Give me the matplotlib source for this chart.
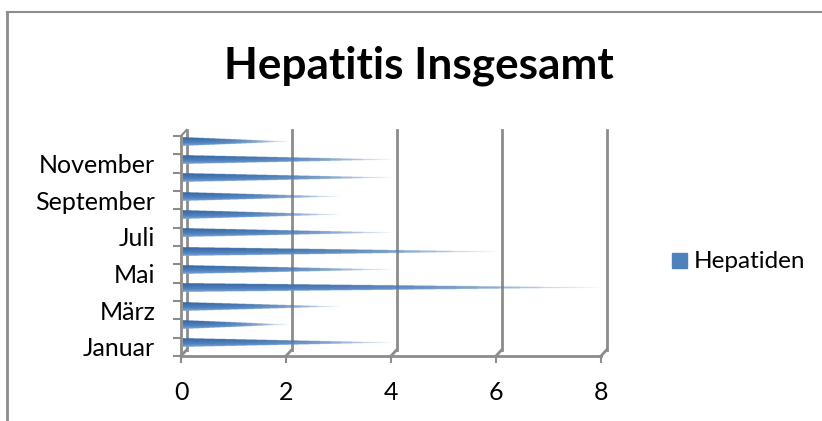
import numpy as np
import matplotlib
matplotlib.use("Agg")
import matplotlib.pyplot as plt
from matplotlib.colors import to_rgb
from matplotlib.lines import Line2D
from matplotlib.patches import Rectangle
from matplotlib.transforms import ScaledTranslation

months = ["Januar", "Februar", "März", "April", "Mai", "Juni", "Juli",
          "August", "September", "Oktober", "November", "Dezember"]
hepatiden = [4, 2, 3, 8, 4, 6, 4, 3, 3, 4, 4, 2]
x_ticks = [0, 2, 4, 6, 8]

W, H = 822, 421
gray = "#8c8c8c"
plt.rcParams["font.family"] = ["Lato", "DejaVu Sans"]

fig = plt.figure(figsize=(W / 100, H / 100), dpi=100)
ax = fig.add_axes([181 / W, 1 - 356 / H, 420 / W, 220 / H])
ax.set_xlim(0, 8)
ax.set_ylim(-0.5, 11.5)
ax.patch.set_alpha(0)


def px_shift(dx, dy):
    return ScaledTranslation(dx / 100, -dy / 100, fig.dpi_scale_trans)


# back wall is shifted up and right from the front plane
back = ax.get_xaxis_transform() + px_shift(5.5, -6)
front = ax.get_xaxis_transform()
for v in x_ticks:
    ax.plot([v, v], [0, 1], color=gray, lw=2, transform=back, clip_on=False, zorder=1)
    x0, y0 = front.transform((v, 0))
    x1, y1 = back.transform((v, 0))
    fig.add_artist(Line2D([x0 / W, x1 / W], [y0 / H, y1 / H], color=gray, lw=2))
x0, y0 = front.transform((0, 1))
x1, y1 = back.transform((0, 1))
fig.add_artist(Line2D([x0 / W, x1 / W], [y0 / H, y1 / H], color=gray, lw=1.5))

# cones, drawn as small gradient images
ny, nx = 41, 400
u = np.linspace(-1, 1, ny)[:, None]
s = np.linspace(0, 1, nx)[None, :]
light = np.array(to_rgb("#8fb3df"))
mid = np.array(to_rgb("#4f81bd"))
dark = np.array(to_rgb("#3a6ba8"))
half = 0.24
cone_shift = ax.transData + px_shift(1.5, -4)
for i, val in enumerate(hepatiden):
    t = np.clip((u + 0.25) / 1.0, -1, 1)
    rgb = np.where(t[..., None] < 0, mid + (light - mid) * (-t[..., None]),
                   mid + (dark - mid) * t[..., None])
    rgb = np.broadcast_to(rgb, (ny, nx, 3))
    # keep a thin line at the tip so it does not vanish when downsampled
    alpha = (np.abs(u) <= np.maximum(1 - s, 0.12)).astype(float) * (1 - s ** 3)
    img = np.dstack([rgb, alpha])
    im = ax.imshow(img, extent=(0, val, i - half, i + half), origin="lower",
                   aspect="auto", interpolation="antialiased", zorder=3, clip_on=False)
    im.set_transform(cone_shift)
ax.set_xlim(0, 8)
ax.set_ylim(-0.5, 11.5)

for side in ["top", "right"]:
    ax.spines[side].set_visible(False)
for side in ["left", "bottom"]:
    ax.spines[side].set_color(gray)
    ax.spines[side].set_linewidth(2)

ax.set_xticks(x_ticks)
ax.set_yticks(np.arange(-0.5, 12, 1))
ax.set_yticklabels([])
ax.set_yticks(range(0, 12, 2), months[::2], minor=True)
ax.tick_params(axis="y", which="major", length=6, width=1.5, color=gray)
ax.tick_params(axis="y", which="minor", length=0, pad=18.5, labelsize=18)
ax.tick_params(axis="x", length=5, width=1.5, color=gray, pad=13, labelsize=18)

fig.text(419 / W, 1 - 66 / H, "Hepatitis Insgesamt", ha="center", va="center",
         fontsize=31.8, fontweight="bold")

# legend
fig.add_artist(Rectangle((672 / W, 1 - 268 / H), 15 / W, 15 / H, color="#4f81bd"))
fig.text(694 / W, 1 - 261 / H, "Hepatiden", ha="left", va="center", fontsize=17.5)

# chart frame, only top and left survive in the picture
fig.add_artist(Line2D([7 / W, 1], [1 - 12 / H, 1 - 12 / H], color=gray, lw=1.5))
fig.add_artist(Line2D([7 / W, 7 / W], [1 - 12 / H, 0], color=gray, lw=2))

fig.savefig("out.png", dpi=100)
